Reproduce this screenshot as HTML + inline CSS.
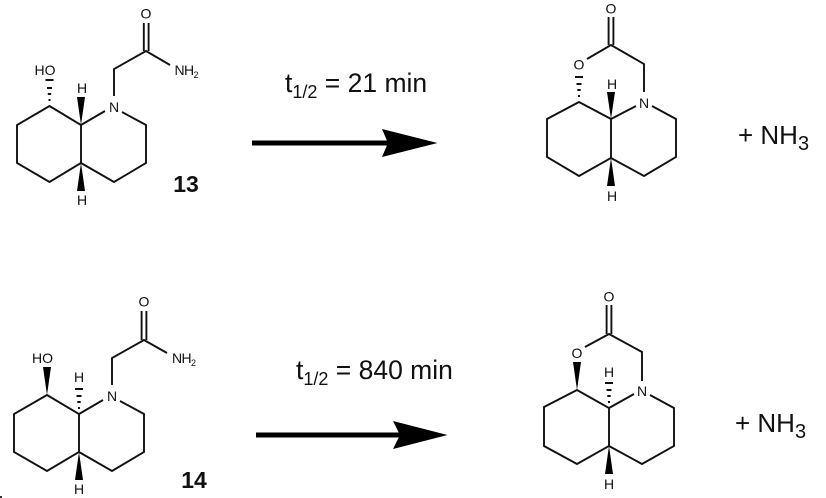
<!DOCTYPE html>
<html>
<head>
<meta charset="utf-8">
<style>
html,body{margin:0;padding:0;background:#fff;width:826px;height:498px;overflow:hidden}
svg{display:block;filter:blur(.35px)}
text{font-family:"Liberation Sans",sans-serif;fill:#111}
.a{font-size:14px;text-anchor:middle}
.s{font-size:9px}
.l{fill:none;stroke:#111;stroke-width:1.9;stroke-linejoin:miter;stroke-linecap:butt}
.h{stroke:#111;stroke-width:2;fill:none}
.big{font-size:26px}
.t{font-size:26.500px}
.sub{font-size:18px}
.sub3{font-size:20px}
.num{font-size:23px;font-weight:bold;text-anchor:middle}
</style>
</head>
<body>
<svg width="826" height="498" viewBox="0 0 826 498" xmlns="http://www.w3.org/2000/svg">
<!-- Molecule 13 -->
<path class="l" d="M49.500 106L81 125L81 163L49.500 182L17 163L17 125Z"/>
<path class="l" d="M81 125L105 111M122 112L146 125L146 163L114 182L81 163"/>
<path class="l" d="M114 96L114 69L146 51L170 65M143.800 51L143.800 23M148.600 51L148.600 23"/>
<text class="a" x="114" y="112">N</text>
<text class="a" x="146" y="18.500">O</text>
<text class="a" x="45" y="75">HO</text>
<text class="a" x="82" y="93">H</text>
<text class="a" x="82" y="205">H</text>
<text x="174.500" y="75" style="font-size:14px" textLength="24">NH<tspan class="s" dy="3">2</tspan></text>
<path d="M81 125L77 97L85 97Z" fill="#000"/>
<path d="M81 163L77 191L85 191Z" fill="#000"/>
<path class="h" d="M48.500 100h2M47.800 94h3.400M47 88h5M45.500 80h8"/>
<text class="num" x="186" y="192">13</text>

<!-- Product 13 -->
<path class="l" d="M579 102L611 119L611 158L579 176L547 157L547 119Z"/>
<path class="l" d="M611 119L636 106M652 106L676 119L676 157L644 176L611 158"/>
<path class="l" d="M644 92L644 64L611 45L587 59M608.600 45L608.600 17M613.400 45L613.400 17"/>
<text class="a" x="644" y="108">N</text>
<text class="a" x="611" y="13.500">O</text>
<text class="a" x="579" y="69.500">O</text>
<text class="a" x="612" y="89">H</text>
<text class="a" x="612" y="201">H</text>
<path d="M611 119L607 92L615 92Z" fill="#000"/>
<path d="M611 158L607 186L615 186Z" fill="#000"/>
<path class="h" d="M578 96h2M577.300 90h3.400M576.500 84h5M575 77h8"/>
<text x="738" y="144" class="big">+ NH<tspan class="sub3" dy="6">3</tspan></text>

<!-- Arrow 1 -->
<rect x="252" y="140.500" width="136" height="5" fill="#000"/>
<path d="M437.500 143L382 129L388 143L382 157Z" fill="#000"/>
<text x="285" y="92" class="t">t<tspan class="sub" dy="6">1/2</tspan><tspan dy="-6"> = 21 min</tspan></text>

<!-- Molecule 14 -->
<path class="l" d="M47 395L79 414L79 452L47 471L14 452L14 414Z"/>
<path class="l" d="M79 414L103 400M120 401L144 414L144 452L112 471L79 452"/>
<path class="l" d="M112 385L112 358L144 340L167 353M141.600 340L141.600 311M146.400 340L146.400 311"/>
<text class="a" x="112" y="401">N</text>
<text class="a" x="144" y="306.500">O</text>
<text class="a" x="42.500" y="363">HO</text>
<text class="a" x="79" y="382">H</text>
<text class="a" x="79" y="494">H</text>
<text x="172" y="363" style="font-size:14px" textLength="24">NH<tspan class="s" dy="3">2</tspan></text>
<path d="M47 395L43 367L51 367Z" fill="#000"/>
<path d="M79 452L75 480L83 480Z" fill="#000"/>
<path class="h" d="M78 408h2M77.300 402h3.400M76.500 396h5M75 389h8"/>
<text class="num" x="194" y="488">14</text>
<rect x="0" y="496" width="2" height="2" fill="#333"/>

<!-- Product 14 -->
<path class="l" d="M577 390L609 408L609 446L577 464L544 446L544 407Z"/>
<path class="l" d="M609 408L634 394M650 395L674 408L674 446L642 464L609 446"/>
<path class="l" d="M642 381L642 352L609 334L585 347M606.600 334L606.600 305M611.400 334L611.400 305"/>
<text class="a" x="642" y="396">N</text>
<text class="a" x="609" y="301.500">O</text>
<text class="a" x="577" y="358">O</text>
<text class="a" x="609" y="377">H</text>
<text class="a" x="609" y="489">H</text>
<path d="M577 390L573 362L581 362Z" fill="#000"/>
<path d="M609 446L605 474L613 474Z" fill="#000"/>
<path class="h" d="M608 402h2M607.300 396h3.400M606.500 390h5M605 383h8"/>
<text x="735" y="432" class="big">+ NH<tspan class="sub3" dy="6">3</tspan></text>

<!-- Arrow 2 -->
<rect x="256" y="432.500" width="146" height="5" fill="#000"/>
<path d="M447.500 435L393 421L400 435L393 449Z" fill="#000"/>
<text x="296" y="379" class="t">t<tspan class="sub" dy="6">1/2</tspan><tspan dy="-6"> = 840 min</tspan></text>
</svg>
</body>
</html>
